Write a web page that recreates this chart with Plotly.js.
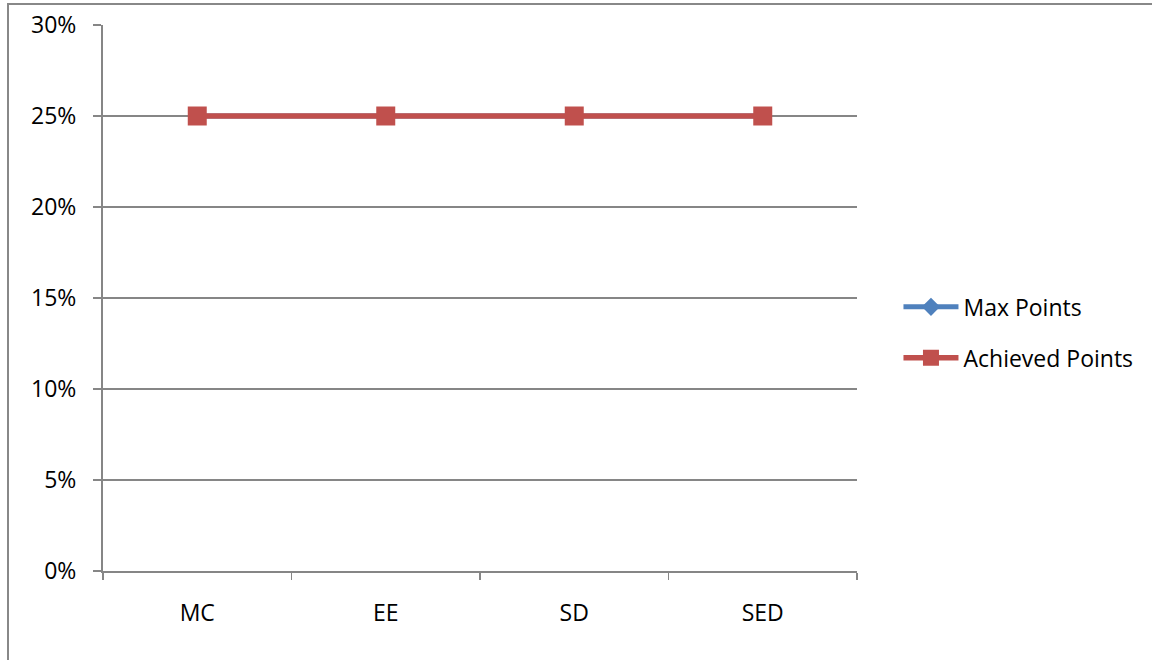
<!DOCTYPE html>
<html>
<head>
<meta charset="utf-8">
<script src="https://cdn.plot.ly/plotly-3.0.1.min.js"></script>
<style>
  html, body { margin: 0; padding: 0; background: #fff; }
  #wrap { position: relative; width: 1152px; height: 660px; overflow: hidden; }
  #chart { position: absolute; left: 0; top: 0; width: 1152px; height: 660px; }
  #frame { position: absolute; left: 7px; top: 3px; width: 1200px; height: 700px;
           border-left: 2px solid #888; border-top: 2px solid #888; pointer-events: none; }
</style>
</head>
<body>
<div id="wrap">
  <div id="chart"></div>
  <div id="frame"></div>
</div>
<script>
const categories = ["MC", "EE", "SD", "SED"];
const maxPoints = [0.25, 0.25, 0.25, 0.25];
const achievedPoints = [0.25, 0.25, 0.25, 0.25];
const yTickVals = [0, 0.05, 0.10, 0.15, 0.20, 0.25, 0.30];

const FONT = "Open Sans, Noto Sans, sans-serif";
const GRID = "#868686";

const traces = [
  {
    x: categories, y: maxPoints, name: "Max Points", type: "scatter", mode: "lines+markers",
    legendgroup: "a",
    line: { color: "#4F81BD", width: 5 },
    marker: { symbol: "diamond", size: 14, color: "#4F81BD" }
  },
  {
    x: categories, y: achievedPoints, name: "Achieved Points", type: "scatter", mode: "lines+markers",
    legendgroup: "b",
    line: { color: "#C0504D", width: 5.5 },
    marker: { symbol: "square", size: 19, color: "#C0504D" }
  }
];

const layout = {
  width: 1152, height: 660,
  margin: { l: 103, r: 295, t: 25, b: 89 },
  paper_bgcolor: "#fff", plot_bgcolor: "#fff",
  font: { family: FONT, size: 23, color: "#000" },
  showlegend: true,
  legend: {
    x: 1.055, xanchor: "left", y: 0.437, yanchor: "middle",
    traceorder: "grouped", tracegroupgap: 18,
    itemwidth: 55,
    font: { family: FONT, size: 23, color: "#000" },
    bgcolor: "rgba(0,0,0,0)", itemsizing: "trace"
  },
  xaxis: {
    type: "category",
    range: [-0.5, 3.5],
    showgrid: false, zeroline: false,
    showline: true, linecolor: GRID, linewidth: 2,
    ticks: "outside", tickson: "boundaries", ticklen: 7, tickcolor: GRID, tickwidth: 1.5,
    ticklabelstandoff: 20,
    tickfont: { family: FONT, size: 23, color: "#000" },
    fixedrange: true
  },
  yaxis: {
    range: [0, 0.30],
    tickvals: yTickVals, tickformat: ".0%",
    showgrid: true, gridcolor: GRID, gridwidth: 1.5,
    zeroline: false,
    showline: true, linecolor: GRID, linewidth: 2,
    ticks: "outside", ticklen: 8, tickcolor: GRID, tickwidth: 1.5,
    ticklabelstandoff: 12,
    tickfont: { family: FONT, size: 23, color: "#000" },
    fixedrange: true
  }
};

Plotly.newPlot("chart", traces, layout, { displayModeBar: false, staticPlot: true });
</script>
</body>
</html>
